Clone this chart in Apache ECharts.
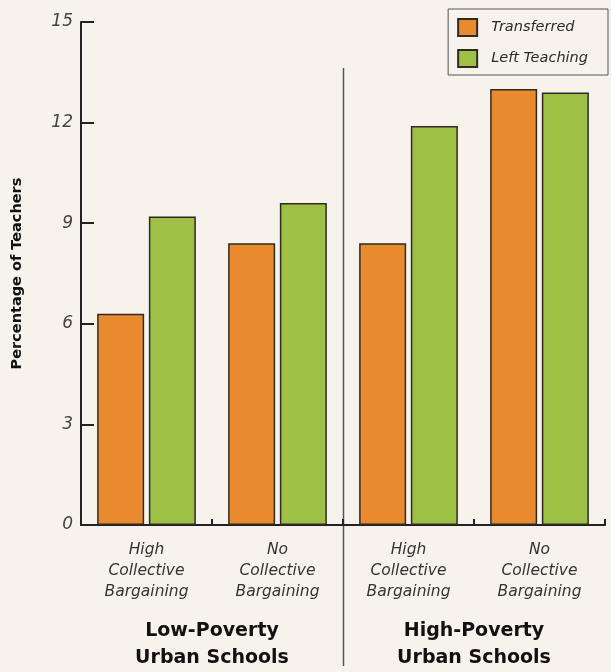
<!DOCTYPE html>
<html><head><meta charset="utf-8">
<script src="https://cdn.jsdelivr.net/npm/echarts@6/dist/echarts.min.js"></script>
<style>html,body{margin:0;padding:0;background:#f7f3ec}#c{width:611px;height:672px}</style>
</head><body><div id="c"></div>
<script>
var categories = ['High\nCollective\nBargaining','No\nCollective\nBargaining','High\nCollective\nBargaining','No\nCollective\nBargaining'];
var groups = ['Low-Poverty\nUrban Schools','High-Poverty\nUrban Schools'];
var transferred = [6.3, 8.4, 8.4, 13.0];
var leftTeaching = [9.2, 9.6, 11.9, 12.9];
var yTicks = [0, 3, 6, 9, 12, 15];

var font = '"DejaVu Sans", sans-serif';
var chart = echarts.init(document.getElementById('c'));
var barBorder = {borderColor:'#2e2b22', borderWidth:1.5};
chart.setOption({
  backgroundColor:'#f7f3ec',
  animation:false,
  grid:{left:81, right:6, top:22, bottom:146},
  legend:{
    orient:'vertical', right:3, top:9, icon:'rect',
    padding:[9,20,7,9], itemGap:12, itemWidth:19, itemHeight:17,
    borderColor:'#555', borderWidth:1, backgroundColor:'#f7f3ec',
    textStyle:{fontFamily:font, fontStyle:'italic', fontSize:14.5, color:'#2a2a2a', padding:[0,0,0,9]},
    data:['Transferred','Left Teaching']
  },
  xAxis:[{
    type:'category', data:categories,
    axisLine:{lineStyle:{color:'#222', width:2}},
    axisTick:{show:true, inside:true, length:6, lineStyle:{color:'#222', width:2}},
    axisLabel:{fontFamily:font, fontStyle:'italic', fontSize:15.5, color:'#333', lineHeight:21, margin:14, interval:0}
  },{
    type:'category', data:groups, position:'bottom',
    axisLine:{show:false}, axisTick:{show:false},
    axisLabel:{fontFamily:font, fontWeight:'bold', fontSize:19, color:'#111', lineHeight:27, margin:93, interval:0}
  }],
  yAxis:{
    type:'value', min:yTicks[0], max:yTicks[yTicks.length-1], interval:3,
    name:'Percentage of Teachers', nameLocation:'middle', nameGap:56, nameRotate:90,
    nameTextStyle:{fontFamily:font, fontWeight:'bold', fontSize:14.5, color:'#111'},
    axisLine:{show:true, lineStyle:{color:'#222', width:2}},
    axisTick:{show:true, inside:true, length:13, lineStyle:{color:'#222', width:2}},
    splitLine:{show:false},
    axisLabel:{fontFamily:font, fontStyle:'italic', fontSize:17, color:'#444', margin:8}
  },
  series:[
    {name:'Transferred', type:'bar', data:transferred, barWidth:47, barGap:'10%',
     itemStyle:Object.assign({color:'#ea8a2e'}, barBorder)},
    {name:'Left Teaching', type:'bar', data:leftTeaching, barWidth:47, barGap:'10%',
     itemStyle:Object.assign({color:'#9ec045'}, barBorder)}
  ]
});
// divider between the two school groups
var p1 = chart.convertToPixel({xAxisIndex:0}, 1);
var p2 = chart.convertToPixel({xAxisIndex:0}, 2);
var xd = Math.round((p1 + p2) / 2) + 0.5;
chart.setOption({graphic:[{type:'line', shape:{x1:xd, y1:68, x2:xd, y2:666}, style:{stroke:'#555', lineWidth:1.5}}]});
</script></body></html>
